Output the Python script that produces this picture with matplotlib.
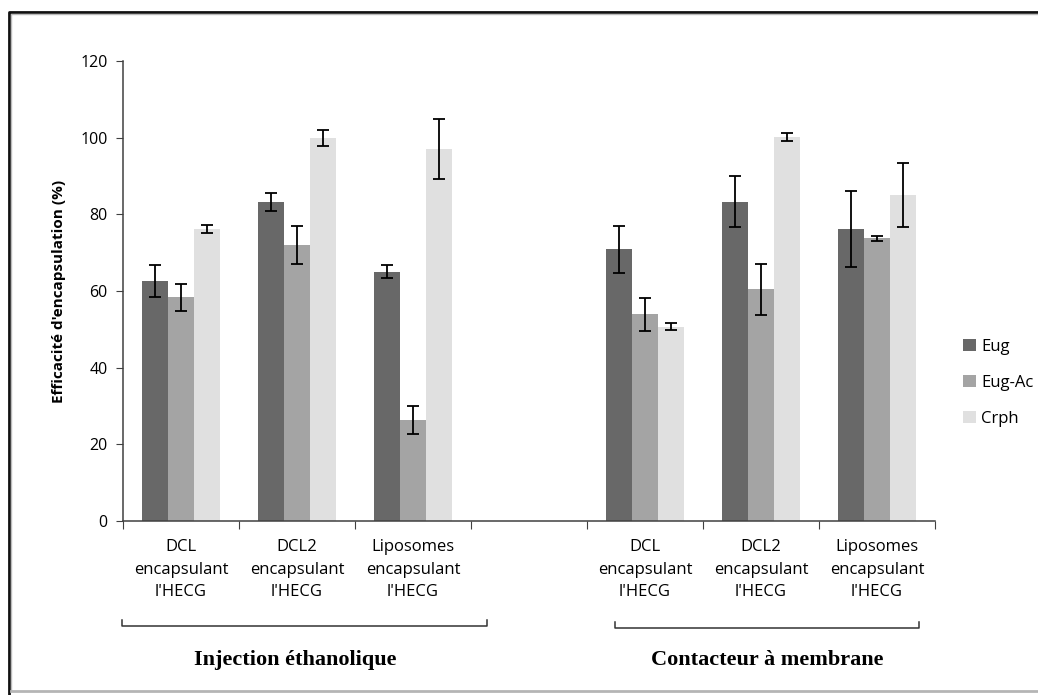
import matplotlib.pyplot as plt
from matplotlib.lines import Line2D
import numpy as np

# Données
categories = ["DCL\nencapsulant\nl'HECG", "DCL2\nencapsulant\nl'HECG", "Liposomes\nencapsulant\nl'HECG",
              "",
              "DCL\nencapsulant\nl'HECG", "DCL2\nencapsulant\nl'HECG", "Liposomes\nencapsulant\nl'HECG"]
series = ["Eug", "Eug-Ac", "Crph"]
eug = [62.7, 83.2, 65.0, np.nan, 70.9, 83.3, 76.2]
eug_err = [4.2, 2.4, 1.7, np.nan, 6.1, 6.7, 9.9]
eug_ac = [58.4, 72.0, 26.3, np.nan, 53.9, 60.4, 73.7]
eug_ac_err = [3.5, 5.0, 3.7, np.nan, 4.3, 6.6, 0.75]
crph = [76.1, 100.0, 97.0, np.nan, 50.7, 100.1, 85.0]
crph_err = [1.0, 2.1, 7.9, np.nan, 1.0, 1.0, 8.4]
groups = ["Injection éthanolique", "Contacteur à membrane"]

colors = ["#686868", "#a4a4a4", "#e0e0e0"]
font = ["Open Sans", "DejaVu Sans"]

fig = plt.figure(figsize=(10.38, 6.95), dpi=100)
W, H = 1038, 695
ax = fig.add_axes([123 / W, 174 / H, 812 / W, 460 / H])

x = np.arange(len(categories))
bw = 0.227
for i, (vals, errs) in enumerate([(eug, eug_err), (eug_ac, eug_ac_err), (crph, crph_err)]):
    pos = x + (i - 1) * bw
    ax.bar(pos, vals, width=bw, color=colors[i], label=series[i])
    ax.errorbar(pos, vals, yerr=errs, fmt='none', ecolor='black', elinewidth=1.3,
                capsize=4, capthick=1.3)

ax.set_xlim(-0.5, len(categories) - 0.5)
ax.set_ylim(0, 120)
ax.set_yticks(np.arange(0, 121, 20))
ax.set_xticks(np.arange(-0.5, len(categories), 1.0))
ax.set_xticklabels([])
ax.set_xticks(x, minor=True)
ax.set_xticklabels(categories, minor=True, fontsize=12, family=font, linespacing=1.55)
ax.tick_params(axis='x', which='major', direction='out', length=6, color='#404040')
ax.tick_params(axis='x', which='minor', length=0, pad=13)
ax.tick_params(axis='y', direction='out', length=5, color='#404040', labelsize=11.5, pad=6)
for lab in ax.get_yticklabels():
    lab.set_family(font)

for s in ['top', 'right']:
    ax.spines[s].set_visible(False)
for s in ['left', 'bottom']:
    ax.spines[s].set_color('#404040')
    ax.spines[s].set_linewidth(1.1)

ax.set_ylabel("Efficacité d'encapsulation (%)", fontsize=11, fontweight='bold', family=font, labelpad=10)

leg = ax.legend(loc='center left', bbox_to_anchor=(948 / W, 1 - 383 / H), bbox_transform=fig.transFigure,
                frameon=False, prop={'family': font, 'size': 12}, handlelength=0.75, handleheight=0.75,
                handletextpad=0.35, labelspacing=1.2)

# Accolades sous les groupes
def bracket(x0, x1, y):
    fig.add_artist(Line2D([x0 / W, x0 / W, x1 / W, x1 / W],
                          [1 - (y - 6) / H, 1 - y / H, 1 - y / H, 1 - (y - 6) / H],
                          color='#333333', lw=1.1))

bracket(122, 487, 626)
bracket(615, 919, 628)
fig.text(295 / W, 1 - 660 / H, groups[0], ha='center', va='center', fontsize=16,
         fontweight='bold', family='Liberation Serif')
fig.text(767 / W, 1 - 660 / H, groups[1], ha='center', va='center', fontsize=16,
         fontweight='bold', family='Liberation Serif')

# Cadre de l'image
fig.add_artist(Line2D([9 / W, 9 / W, 1.0], [0, 1 - 11.5 / H, 1 - 11.5 / H], color='#111111', lw=2))
fig.add_artist(Line2D([11 / W, 11 / W, 1.0], [1 - 690 / H, 1 - 14 / H, 1 - 14 / H], color='#bbbbbb', lw=1))
fig.add_artist(Line2D([11 / W, 1.0], [1 - 691 / H, 1 - 691 / H], color='#b5b5b5', lw=2))

fig.savefig("out.png", dpi=100)
